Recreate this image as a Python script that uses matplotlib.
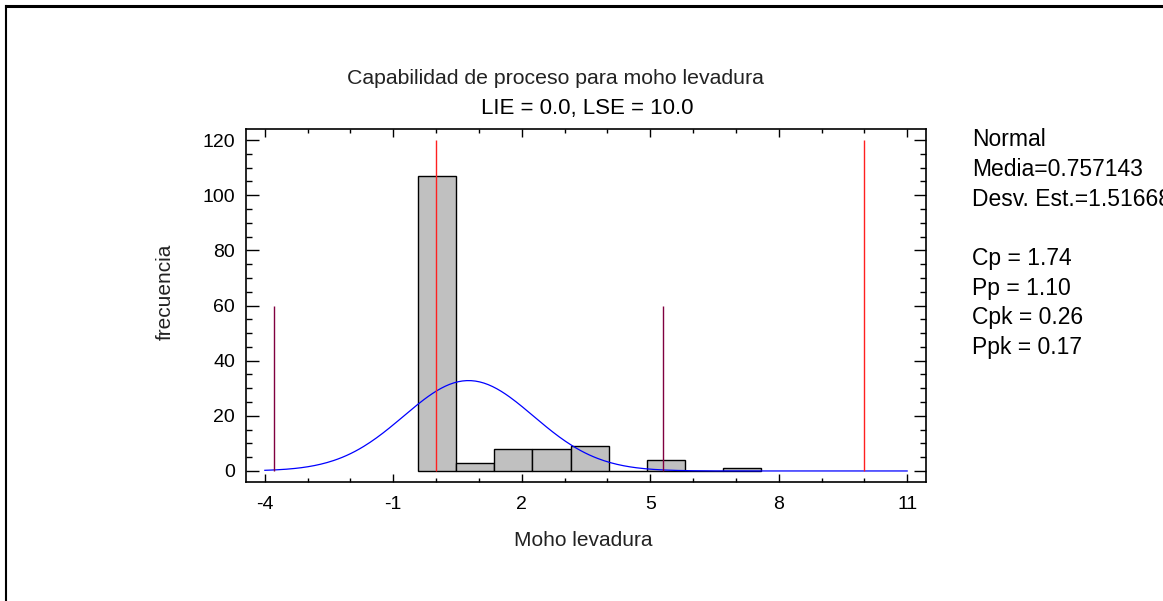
import numpy as np
import matplotlib
matplotlib.use("Agg")
import matplotlib.pyplot as plt
from matplotlib.lines import Line2D
from matplotlib.ticker import MultipleLocator

# histogram of "Moho levadura"
bin_edges = [-0.42, 0.47, 1.36, 2.25, 3.14, 4.03, 4.92, 5.81, 6.70, 7.59]
counts = [107, 3, 8, 8, 9, 0, 4, 0, 1]

# fitted normal and spec limits, as printed on the chart
media = 0.757143
desv_est = 1.51668
lie = 0.0
lse = 10.0

x_ticks = [-4, -1, 2, 5, 8, 11]
stats_lines = ["Normal", "Media=0.757143", "Desv. Est.=1.51668", "",
               "Cp = 1.74", "Pp = 1.10", "Cpk = 0.26", "Ppk = 0.17"]

W, H = 1163, 601
plt.rcParams["font.family"] = ["Liberation Sans", "DejaVu Sans"]
plt.rcParams["axes.unicode_minus"] = False

fig = plt.figure(figsize=(W / 100, H / 100), dpi=100)
fig.patch.set_facecolor("white")


def fx(px):
    return px / W


def fy(py):
    return 1 - py / H


ax = fig.add_axes([fx(246), fy(482), fx(926) - fx(246), fy(129) - fy(482)])

edges = np.array(bin_edges)
widths = np.diff(edges)
ax.bar(edges[:-1], counts, width=widths, align="edge",
       facecolor="#c0c0c0", edgecolor="black", linewidth=1.0, zorder=2)

# normal curve scaled to the histogram
n = sum(counts)
bw = widths.mean()
xs = np.linspace(-4, 11, 300)
pdf = np.exp(-0.5 * ((xs - media) / desv_est) ** 2) / (desv_est * np.sqrt(2 * np.pi))
ax.plot(xs, n * bw * pdf, color="#0000ff", linewidth=0.9, zorder=3)

# spec limits and +-3 sigma
ax.vlines([lie, lse], 0, 120, colors="#ff2020", linewidth=1.0, zorder=4)
ax.vlines([media - 3 * desv_est, media + 3 * desv_est], 0, 60,
          colors="#800040", linewidth=1.0, zorder=4)

ax.set_xlim(-4.44, 11.44)
ax.set_ylim(-4, 124)
ax.set_xticks(x_ticks)
ax.xaxis.set_minor_locator(MultipleLocator(1))
ax.yaxis.set_major_locator(MultipleLocator(20))
ax.yaxis.set_minor_locator(MultipleLocator(5))
ax.tick_params(axis="both", which="both", direction="in", top=True, right=True,
               width=1.0, labelsize=14, colors="black")
ax.tick_params(axis="x", which="major", length=5.5, pad=10)
ax.tick_params(axis="x", which="minor", length=3)
ax.tick_params(axis="y", which="major", length=9, pad=8)
ax.tick_params(axis="y", which="minor", length=4.5)
for sp in ax.spines.values():
    sp.set_linewidth(1.2)

# titles and axis labels
fig.text(fx(555), fy(78), "Capabilidad de proceso para moho levadura",
         ha="center", va="center", fontsize=15.3, color="#222222")
fig.text(fx(587), fy(108), "LIE = 0.0, LSE = 10.0",
         ha="center", va="center", fontsize=16, color="black")
fig.text(fx(583), fy(541), "Moho levadura", ha="center", va="center",
         fontsize=15, color="#222222")
fig.text(fx(165), fy(292), "frecuencia", ha="center", va="center",
         rotation=90, fontsize=15, color="#222222")

# statistics panel on the right
for i, line in enumerate(stats_lines):
    fig.text(fx(972), fy(140 + i * 29.6), line, ha="left", va="center",
             fontsize=16.5, color="black")

# frame lines at the top and left of the picture
fig.add_artist(Line2D([fx(6), 1], [fy(6), fy(6)], color="black", linewidth=2.2))
fig.add_artist(Line2D([fx(6), fx(6)], [fy(6), 0], color="black", linewidth=1.5))

fig.savefig("out.png", dpi=100, facecolor="white")
